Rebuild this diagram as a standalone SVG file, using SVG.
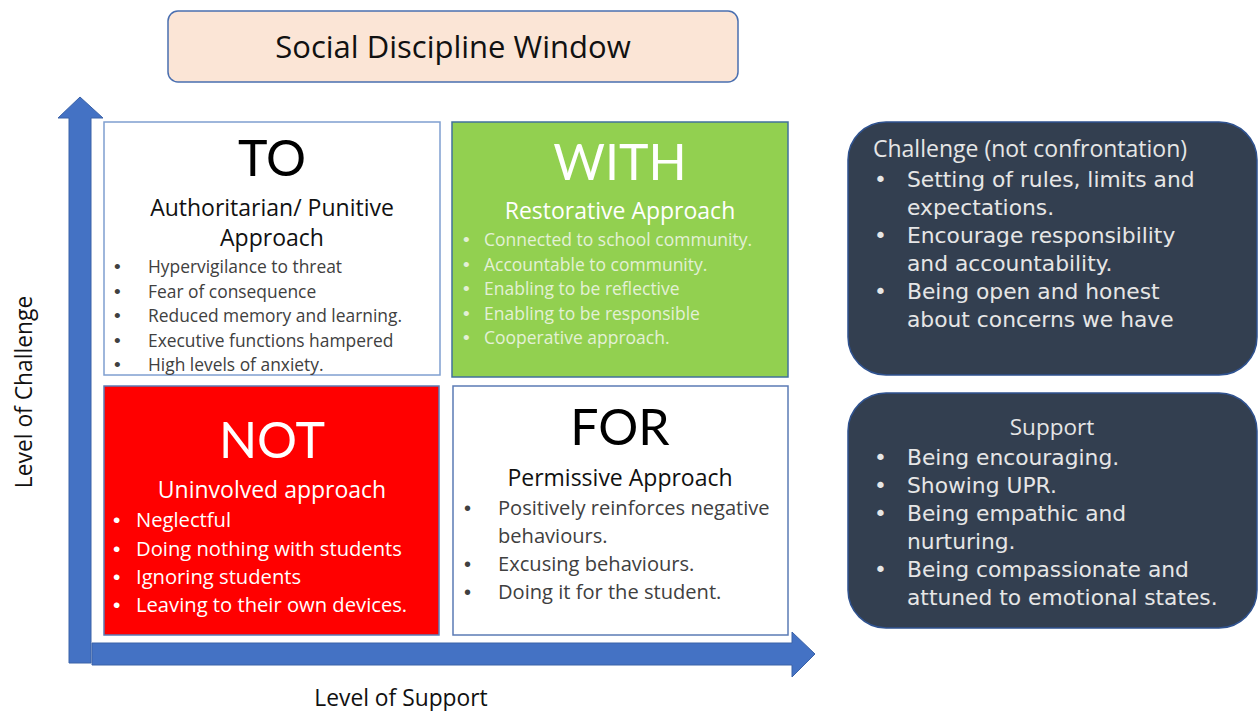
<svg xmlns="http://www.w3.org/2000/svg" width="1259" height="711" viewBox="0 0 1259 711">
<style>
.f{font-family:"Open Sans",Lato,"Liberation Sans",sans-serif}
.l{font-family:Lato,"Open Sans",sans-serif}
.g{font-family:"DejaVu Sans",Lato,sans-serif}
.b{font-family:"Liberation Sans",Arial,sans-serif}
.big{font-size:50px;text-anchor:middle}
.sub{font-size:23px;text-anchor:middle}
.c{text-anchor:middle}
.gray{fill:#404040}
.wb{fill:#ffffff}
.lg{fill:#e3f0d6}
.side{fill:#e6e6e6}
</style>
<rect width="1259" height="711" fill="#ffffff"/>
<g id="title">
<rect x="168" y="11" width="570" height="71" rx="10" fill="#FBE5D6" stroke="#4a6fb0" stroke-width="1.5"/>
<text x="453" y="58" class="f c" font-size="31" fill="#111">Social Discipline Window</text>
</g>
<g id="axes">
<polygon points="69,663 69,118 58,118 80,97 103,118 91,118 91,663" fill="#4472C4" stroke="#3a62a8" stroke-width="1"/>
<polygon points="92,643 792,643 792,632 815,654 792,677 792,665 92,665" fill="#4472C4" stroke="#3a62a8" stroke-width="1"/>
</g>
<g id="quadrant-to">
<rect x="104" y="122" width="336" height="253" fill="#ffffff" stroke="#7f9fd0" stroke-width="1.5"/>
<text x="272" y="176" class="l big" fill="#000">TO</text>
<text x="272" y="216" class="f sub" fill="#111">Authoritarian/ Punitive</text>
<text x="272" y="246" class="f sub" fill="#111">Approach</text>
<g class="b gray" font-size="19">
<text x="114" y="273">•</text><text x="114" y="298">•</text><text x="114" y="322">•</text><text x="114" y="347">•</text><text x="114" y="371">•</text>
</g>
<g class="f gray" font-size="17.4">
<text x="148" y="273">Hypervigilance to threat</text>
<text x="148" y="298">Fear of consequence</text>
<text x="148" y="322">Reduced memory and learning.</text>
<text x="148" y="347">Executive functions hampered</text>
<text x="148" y="371">High levels of anxiety.</text>
</g>
</g>
<g id="quadrant-with">
<rect x="452" y="122" width="336" height="255" fill="#92D050" stroke="#41719C" stroke-width="1.5"/>
<text x="620" y="180" class="l big wb">WITH</text>
<text x="620" y="219" class="f sub wb">Restorative Approach</text>
<g class="b lg" font-size="19">
<text x="463" y="246">•</text><text x="463" y="271">•</text><text x="463" y="295">•</text><text x="463" y="320">•</text><text x="463" y="344">•</text>
</g>
<g class="f lg" font-size="17.5">
<text x="484" y="246">Connected to school community.</text>
<text x="484" y="271">Accountable to community.</text>
<text x="484" y="295">Enabling to be reflective</text>
<text x="484" y="320">Enabling to be responsible</text>
<text x="484" y="344">Cooperative approach.</text>
</g>
</g>
<g id="quadrant-not">
<rect x="104" y="386" width="335" height="249" fill="#FF0000" stroke="#5b7bb5" stroke-width="1.5"/>
<text x="272" y="458" class="l big wb">NOT</text>
<text x="272" y="498" class="f sub wb">Uninvolved approach</text>
<g class="b wb" font-size="21">
<text x="113" y="527">•</text><text x="113" y="556">•</text><text x="113" y="584">•</text><text x="113" y="612">•</text>
</g>
<g class="f wb" font-size="20.2">
<text x="136" y="527">Neglectful</text>
<text x="136" y="556">Doing nothing with students</text>
<text x="136" y="584">Ignoring students</text>
<text x="136" y="612">Leaving to their own devices.</text>
</g>
</g>
<g id="quadrant-for">
<rect x="453" y="386" width="335" height="249" fill="#ffffff" stroke="#5b7bb5" stroke-width="1.5"/>
<text x="620" y="445" class="l big" fill="#000">FOR</text>
<text x="620" y="486" class="f sub" fill="#111">Permissive Approach</text>
<g class="b gray" font-size="20">
<text x="464" y="515">•</text><text x="464" y="571">•</text><text x="464" y="599">•</text>
</g>
<g class="f gray" font-size="20.1">
<text x="498" y="515">Positively reinforces negative</text>
<text x="498" y="543">behaviours.</text>
<text x="498" y="571">Excusing behaviours.</text>
<text x="498" y="599">Doing it for the student.</text>
</g>
</g>
<g id="challenge-box">
<rect x="848" y="122" width="409" height="253" rx="38" fill="#333F50" stroke="#2F528F" stroke-width="1.5"/>
<text x="873" y="157" class="f side" font-size="23">Challenge (not confrontation)</text>
<g class="g side" font-size="21.8">
<text x="874" y="187">•</text><text x="907" y="187">Setting of rules, limits and</text>
<text x="907" y="215">expectations.</text>
<text x="874" y="243">•</text><text x="907" y="243">Encourage responsibility</text>
<text x="907" y="271">and accountability.</text>
<text x="874" y="299">•</text><text x="907" y="299">Being open and honest</text>
<text x="907" y="327">about concerns we have</text>
</g>
</g>
<g id="support-box">
<rect x="848" y="393" width="409" height="235" rx="38" fill="#333F50" stroke="#2F528F" stroke-width="1.5"/>
<text x="1052" y="435" class="f side c" font-size="22.5">Support</text>
<g class="g side" font-size="21.8">
<text x="874" y="465">•</text><text x="907" y="465">Being encouraging.</text>
<text x="874" y="493">•</text><text x="907" y="493">Showing UPR.</text>
<text x="874" y="521">•</text><text x="907" y="521">Being empathic and</text>
<text x="907" y="549">nurturing.</text>
<text x="874" y="577">•</text><text x="907" y="577">Being compassionate and</text>
<text x="907" y="605">attuned to emotional states.</text>
</g>
</g>
<g id="axis-labels">
<text transform="translate(32,392) rotate(-90)" class="f c" font-size="22.8" fill="#111">Level of Challenge</text>
<text x="401" y="706" class="f c" font-size="22.8" fill="#111">Level of Support</text>
</g>
</svg>
